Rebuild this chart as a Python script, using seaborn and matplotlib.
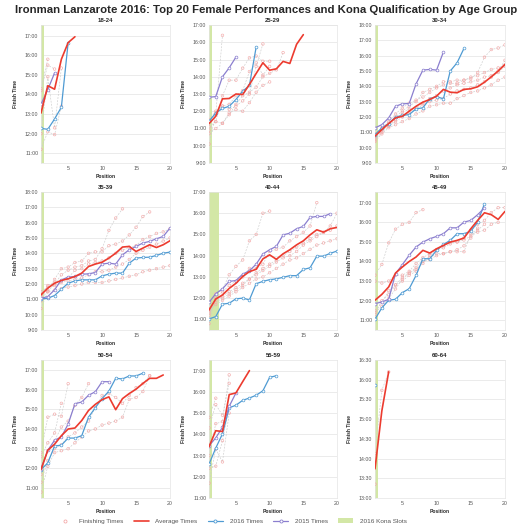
import numpy as np
import pandas as pd
import matplotlib
matplotlib.use("Agg")
import matplotlib.pyplot as plt
from matplotlib.lines import Line2D
from matplotlib.patches import Patch
import seaborn as sns

# ---------------- data ----------------
GROUPS = ["18-24", "25-29", "30-34", "35-39", "40-44", "45-49", "50-54", "55-59", "60-64"]

KONA_SLOTS = {"18-24": 1, "25-29": 1, "30-34": 1, "35-39": 1, "40-44": 2,
              "45-49": 1, "50-54": 1, "55-59": 1, "60-64": 1}

AVG = {
    "18-24": [13.05, 14.45, 14.27, 15.8, 16.65, 16.95],
    "25-29": [11.28, 11.71, 12.72, 12.74, 13.0, 12.97, 13.55, 14.19, 14.81, 14.38, 14.46, 14.89, 14.77, 15.88, 16.44],
    "30-34": [10.75, 11.18, 11.57, 11.94, 12.05, 12.38, 12.7, 12.97, 13.14, 13.36, 13.8, 13.62, 13.58, 13.8, 13.84, 13.97, 14.27, 14.62, 15.0, 15.43],
    "35-39": [11.29, 11.73, 12.05, 12.23, 12.34, 12.49, 12.71, 13.14, 13.3, 13.42, 13.69, 14.01, 14.41, 14.45, 14.12, 14.34, 14.56, 14.38, 14.56, 14.82],
    "40-44": [11.44, 11.96, 12.15, 12.46, 12.7, 13.02, 13.25, 13.36, 13.85, 14.04, 13.83, 14.09, 14.28, 14.51, 14.7, 14.98, 15.22, 15.11, 15.27, 15.33],
    "45-49": [12.02, 12.32, 12.7, 13.41, 13.72, 14.0, 14.23, 14.57, 14.43, 14.65, 14.82, 14.99, 15.08, 15.2, 15.67, 16.1, 16.49, 16.39, 16.15, 16.56],
    "50-54": [11.94, 12.92, 13.23, 13.66, 14.0, 14.05, 14.43, 14.94, 15.25, 15.49, 15.63, 14.98, 15.54, 15.8, 16.02, 16.31, 16.57, 16.57, 16.74],
    "55-59": [13.41, 14.17, 14.13, 15.87, 15.95, 16.48, 17.0],
    "60-64": [13.74, 15.21, 16.2],
}

T2016 = {
    "18-24": [12.27, 12.22, 12.75, 13.35, 16.65],
    "25-29": [11.42, 11.9, 12.16, 12.29, 12.68, 13.16, 13.5, 15.72],
    "30-34": [10.85, 11.29, 11.57, 12.0, 12.1, 12.16, 12.53, 12.6, 13.19, 13.32, 13.19, 15.0, 15.54, 16.47],
    "35-39": [11.03, 11.07, 11.25, 11.66, 12.05, 12.2, 12.27, 12.27, 12.27, 12.53, 12.64, 12.71, 12.71, 13.36, 13.69, 13.73, 13.75, 13.86, 14.01, 14.08],
    "40-44": [11.02, 11.13, 11.72, 11.76, 11.97, 12.0, 11.92, 12.68, 12.79, 12.87, 12.91, 12.98, 13.06, 13.06, 13.35, 13.43, 13.98, 13.98, 14.11, 14.22],
    "45-49": [11.05, 11.63, 12.02, 12.07, 12.41, 12.61, 13.29, 14.14, 14.14, 14.57, 14.87, 15.08, 15.42, 15.42, 15.54, 16.01, 16.95],
    "50-54": [11.94, 12.28, 13.14, 13.18, 13.54, 13.54, 13.66, 14.6, 15.08, 15.54, 15.92, 16.57, 16.54, 16.69, 16.69, 16.83],
    "55-59": [12.59, 13.35, 14.02, 15.25, 15.37, 15.6, 15.71, 15.84, 16.05, 16.68, 16.76],
    "60-64": [15.87],
}

T2015 = {
    "18-24": [13.5, 14.25, 15.1],
    "25-29": [12.81, 12.85, 14.0, 14.52, 15.14],
    "30-34": [11.29, 11.5, 11.94, 12.7, 12.86, 12.88, 14.16, 15.06, 15.1, 15.06, 16.24],
    "35-39": [11.07, 11.18, 11.62, 12.27, 12.45, 12.49, 12.64, 12.66, 12.75, 13.3, 13.36, 13.3, 13.9, 14.23, 14.45, 14.67, 14.78, 14.95, 15.1, 15.65],
    "40-44": [11.8, 12.21, 12.44, 12.79, 12.83, 13.13, 13.29, 13.6, 14.08, 14.28, 14.44, 14.98, 15.06, 15.27, 15.38, 15.8, 15.85, 15.85, 15.98],
    "45-49": [11.85, 11.93, 12.07, 13.38, 13.84, 14.32, 14.74, 14.99, 15.16, 15.28, 15.42, 15.72, 15.72, 16.01, 16.1, 16.39, 16.74],
    "50-54": [11.99, 12.92, 13.43, 13.6, 14.25, 15.28, 15.37, 15.71, 15.89, 16.4, 16.4],
    "55-59": [13.46, 13.83, 14.33, 15.32, 15.95],
    "60-64": [],
}

FINISH = {
    "18-24": [
        [14.3, 15.8],
        [14.2, 15.5, 15.3],
        [12.0, 14.9, 12.3, 15.35],
        [11.2, 12.1, 11.95, 13.4],
    ],
    "25-29": [
        [10.1, 11.8, 16.4],
        [10.7, 11.0, 11.3, 11.9, 12.1, 12.0, 12.5, 13.1, 13.5, 13.7],
        [10.9, 11.4, 12.9, 13.8, 13.8, 14.5, 15.1, 15.2, 14.9, 14.9],
        [11.1, 11.4, 11.3, 11.8, 12.4, 12.9, 13.1, 13.4, 14.0, 14.2, 14.4, 15.4],
        [11.5, 12.0, 12.3, 12.1, 12.3, 12.6, 13.0, 14.6, 15.9],
        [11.4, 11.9, 12.3, 12.4, 12.9, 13.2, 14.3, 14.8, 14.1, 14.6],
    ],
    "30-34": [
        [10.4, 10.9, 11.3, 11.5, 11.7, 11.9, 12.2, 12.4, 12.7, 12.8, 12.9, 12.9, 13.2, 13.4, 13.6, 13.7, 13.9, 14.1, 14.4, 14.6],
        [10.5, 11.0, 11.4, 11.7, 12.0, 12.3, 12.5, 12.8, 13.0, 13.1, 13.2, 13.5, 13.7, 13.8, 13.9, 14.1, 14.3, 14.6, 14.9, 15.3],
        [10.6, 11.1, 11.6, 12.0, 12.4, 12.7, 13.0, 13.6, 13.8, 14.0, 14.3, 14.3, 14.4, 14.4, 14.5, 14.9, 15.9, 16.4, 16.5, 16.7],
        [10.7, 11.2, 11.4, 11.8, 12.3, 12.5, 12.6, 12.9, 13.2, 13.4, 13.7, 13.9, 14.1, 14.2, 14.3, 14.4, 14.6, 14.7, 15.0, 15.7],
        [10.9, 11.3, 11.7, 12.2, 12.6, 12.9, 13.1, 13.3, 13.6, 13.9, 14.1, 14.2, 14.2, 14.4, 14.6, 14.7, 14.9, 15.1, 15.2, 15.4],
    ],
    "35-39": [
        [10.4, 11.5, 12.0, 12.6, 12.9, 13.1, 13.2, 13.5, 13.6, 14.3, 15.5, 16.3, 16.9],
        [10.9, 11.6, 12.3, 13.0, 13.1, 13.4, 13.5, 14.0, 14.1, 14.1, 14.5, 14.6, 14.8, 15.2, 15.7, 16.4, 16.7],
        [11.3, 11.9, 12.1, 12.2, 12.4, 12.9, 13.0, 13.3, 13.4, 13.5, 13.7, 14.0, 14.2, 14.4, 14.5, 14.9, 15.1, 15.3, 15.4, 15.6],
        [11.5, 11.8, 11.9, 12.1, 12.2, 12.3, 12.4, 12.6, 12.8, 12.8, 12.9, 13.1, 13.3, 13.6, 14.0, 14.2, 14.4, 14.6, 14.8, 15.0],
        [11.2, 11.5, 11.6, 11.7, 11.8, 11.9, 12.0, 12.1, 12.1, 12.1, 12.2, 12.3, 12.4, 12.5, 12.6, 12.8, 12.9, 13.0, 13.1, 13.2],
    ],
    "40-44": [
        [10.8, 12.2, 12.4, 13.1, 13.5, 13.8, 14.7, 15.0, 16.0, 16.1],
        [11.2, 12.0, 12.3, 12.6, 12.8, 13.0, 13.4, 13.4, 13.6, 14.2, 14.3, 14.4, 14.7, 14.9, 15.1, 15.4, 16.5],
        [11.3, 11.8, 12.0, 12.2, 12.4, 12.6, 12.9, 13.1, 13.3, 13.5, 13.7, 13.9, 14.0, 14.2, 14.5, 14.7, 14.9, 15.1, 15.4, 16.0],
        [11.5, 11.9, 12.1, 12.3, 12.5, 12.7, 12.9, 13.2, 13.4, 13.6, 13.8, 14.0, 14.2, 14.4, 14.6, 14.8, 15.0, 15.1, 15.2, 15.4],
        [11.4, 11.7, 11.9, 12.1, 12.3, 12.5, 12.7, 12.9, 13.0, 13.2, 13.4, 13.6, 13.8, 13.9, 14.1, 14.3, 14.5, 14.6, 14.7, 14.8],
    ],
    "45-49": [
        [13.3, 13.85, 14.95, 15.65, 15.9, 16.0, 16.5, 16.65],
        [13.0, 12.9, 13.0, 13.3, 13.3, 13.5, 13.9, 14.2, 14.4, 14.6, 14.7, 14.9, 15.0, 15.2, 15.6, 15.9, 16.1, 16.5, 16.75, 16.75],
        [11.3, 12.0, 12.3, 12.8, 13.2, 13.4, 13.7, 14.1, 14.2, 14.4, 14.4, 14.5, 14.5, 14.5, 15.4, 15.5, 15.6, 15.9, 16.0],
        [11.5, 11.9, 12.5, 12.8, 13.0, 13.3, 13.5, 14.0, 14.1, 14.3, 14.4, 14.5, 14.6, 14.8, 15.2, 15.6, 15.9],
        [11.4, 11.7, 12.1, 12.6, 13.1, 13.4, 13.6, 13.9, 14.3, 14.6, 14.8, 15.0, 15.0, 15.1, 15.3, 15.7],
    ],
    "50-54": [
        [12.8, 14.6, 14.75, 14.65, 16.3],
        [12.6, 13.3, 13.8, 15.3],
        [11.7, 12.9, 13.4, 14.1, 14.4, 15.2, 15.6, 16.3],
        [11.3, 12.4, 13.0, 13.2, 13.6, 13.8, 14.1, 14.4, 15.1, 15.7, 15.8, 15.6, 15.3, 15.7, 16.1, 16.3, 16.7],
        [10.8, 12.1, 12.8, 12.9, 13.0, 13.3, 13.6, 13.9, 14.0, 14.2, 14.3, 14.4, 14.6, 15.5, 15.6, 15.9, 16.7],
    ],
    "55-59": [
        [14.8, 15.7],
        [14.3, 15.4, 14.9, 16.4],
        [13.0, 14.5, 14.6, 16.8],
        [12.4, 12.5, 13.7, 15.3],
        [11.7, 13.3, 12.7, 15.0],
    ],
    "60-64": [
        [13.35],
        [14.13, 15.73, 16.2],
    ],
}

YLIMS = {"18-24": (10.5, 17.55), "25-29": (9, 17), "30-34": (9, 18), "35-39": (9, 18),
         "40-44": (10.5, 17), "45-49": (10.5, 17.55), "50-54": (10.5, 17.5),
         "55-59": (11, 17.5), "60-64": (13, 16.5)}

# ---------------- style ----------------
C_AVG = "#ec3b2f"
C_2016 = "#4f9bd3"
C_2015 = "#8b7fcf"
C_FIN = "#f4aaaa"
C_FINLINE = "#cccccc"
C_KONA = "#d3e7a6"

sns.set_style("white")
plt.rcParams["font.family"] = ["Liberation Sans", "DejaVu Sans"]

fig = plt.figure(figsize=(5.3, 5.3), dpi=100)
W = 530.0
col_left = [41, 209, 375]
col_w = [129, 128, 130]
row_top = [25, 192, 360]
row_h = 138


def fmt_time(h, _pos=None):
    hh = int(np.floor(h + 1e-6))
    mm = int(round((h - hh) * 60))
    return f"{hh}:{mm:02d}"


for i, g in enumerate(GROUPS):
    r, c = divmod(i, 3)
    ax = fig.add_axes([col_left[c] / W, 1 - (row_top[r] + row_h) / W, col_w[c] / W, row_h / W])
    ax.set_facecolor("white")
    ylo, yhi = YLIMS[g]

    # kona slots band
    ax.axvspan(0.5, KONA_SLOTS[g] + 0.5, color=C_KONA, lw=0, zorder=1)

    # finishing times (previous years)
    for s in FINISH[g]:
        d = pd.DataFrame({"pos": np.arange(1, len(s) + 1), "t": s})
        sns.lineplot(data=d, x="pos", y="t", ax=ax, color=C_FINLINE, lw=0.45,
                     linestyle=(0, (3, 2)), zorder=2, legend=False)
        sns.scatterplot(data=d, x="pos", y="t", ax=ax, marker="o", s=3.5,
                        facecolors="none", edgecolor=C_FIN, linewidth=0.45, zorder=3, legend=False)

    # 2016 and 2015
    for series, col in ((T2016, C_2016), (T2015, C_2015)):
        s = series[g]
        if not s:
            continue
        d = pd.DataFrame({"pos": np.arange(1, len(s) + 1), "t": s})
        sns.lineplot(data=d, x="pos", y="t", ax=ax, color=col, lw=0.9, marker="o",
                     markersize=2.0, markerfacecolor="white", markeredgecolor=col,
                     markeredgewidth=0.5, zorder=4, legend=False)

    # average
    s = AVG[g]
    d = pd.DataFrame({"pos": np.arange(1, len(s) + 1), "t": s})
    sns.lineplot(data=d, x="pos", y="t", ax=ax, color=C_AVG, lw=1.2, zorder=5, legend=False)

    ax.set_xlim(1, 20)
    ax.set_ylim(ylo, yhi)
    ax.set_xticks([5, 10, 15, 20])
    step = 0.5 if g == "60-64" else 1.0
    ticks = np.arange(np.ceil(ylo / step) * step, yhi + 1e-6, step)
    ax.set_yticks(ticks)
    ax.yaxis.set_major_formatter(plt.FuncFormatter(fmt_time))
    ax.tick_params(axis="both", length=0, labelsize=3.8, colors="#555555", pad=2)
    ax.grid(axis="y", color="#e8e8e8", lw=0.6)
    ax.grid(axis="x", visible=False)
    for sp in ax.spines.values():
        sp.set_color("#e4e4e4")
        sp.set_linewidth(0.5)
    ax.set_title(g, fontsize=4.3, fontweight="bold", pad=2.5)
    ax.set_xlabel("Position", fontsize=3.6, fontweight="bold", labelpad=2)
    ax.set_ylabel("Finish Time", fontsize=3.6, fontweight="bold", labelpad=5)

fig.suptitle("Ironman Lanzarote 2016: Top 20 Female Performances and Kona Qualification by Age Group",
             fontsize=8.2, fontweight="bold", x=0.502, y=0.99)

handles = [
    Line2D([], [], linestyle="none", marker="o", markersize=2.2, markerfacecolor="none",
           markeredgecolor=C_FIN, markeredgewidth=0.6),
    Line2D([], [], color=C_AVG, lw=1.2),
    Line2D([], [], color=C_2016, lw=0.9, marker="o", markersize=2.2, markerfacecolor="white",
           markeredgecolor=C_2016, markeredgewidth=0.6),
    Line2D([], [], color=C_2015, lw=0.9, marker="o", markersize=2.2, markerfacecolor="white",
           markeredgecolor=C_2015, markeredgewidth=0.6),
    Patch(facecolor=C_KONA, edgecolor="none"),
]
labels = ["Finishing Times", "Average Times", "2016 Times", "2015 Times", "2016 Kona Slots"]
leg = fig.legend(handles, labels, loc="center", bbox_to_anchor=(232 / W, 1 - 521 / W), ncol=5,
                 frameon=False, fontsize=4.6, handlelength=2.4, columnspacing=1.6,
                 handletextpad=1.0)
for t in leg.get_texts():
    t.set_color("#555555")

fig.savefig("out.png", dpi=100)
